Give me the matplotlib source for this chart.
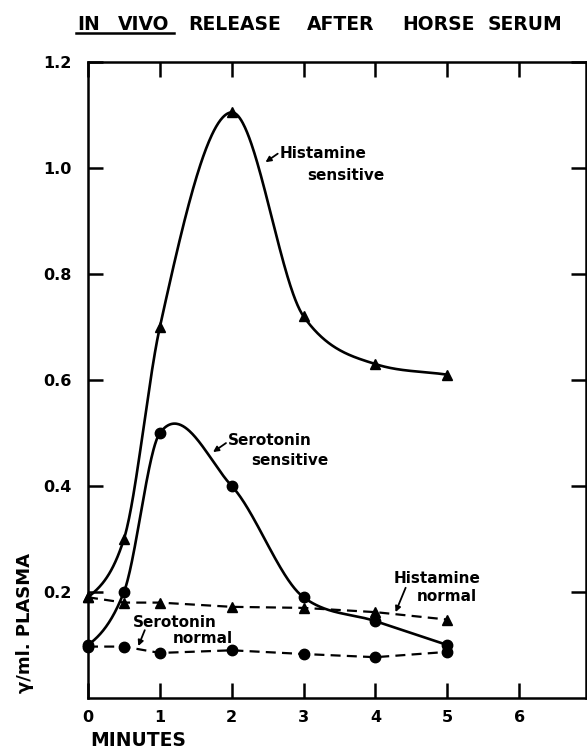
import numpy as np
import matplotlib
matplotlib.use("Agg")
import matplotlib.pyplot as plt
from matplotlib.lines import Line2D

# ---- data ----
minutes = [0, 0.5, 1, 2, 3, 4, 5]
histamine_sensitive = [0.19, 0.30, 0.70, 1.105, 0.72, 0.63, 0.61]
serotonin_sensitive = [0.10, 0.20, 0.50, 0.40, 0.19, 0.145, 0.10]
histamine_normal = [0.19, 0.18, 0.18, 0.172, 0.17, 0.162, 0.148]
serotonin_normal = [0.097, 0.097, 0.085, 0.09, 0.083, 0.077, 0.087]
x_ticks = [0, 1, 2, 3, 4, 5, 6]
y_ticks = [0.2, 0.4, 0.6, 0.8, 1.0, 1.2]
y_tick_labels = ["0.2", "0.4", "0.6", "0.8", "1.0", "1.2"]
title_words = ["IN", "VIVO", "RELEASE", "AFTER", "HORSE", "SERUM"]


def smooth_curve(x, y, xs):
    """Hermite cubic through the data points, tangents blended between
    Bessel (parabolic) and Fritsch-Carlson (shape-preserving) estimates."""
    x = np.asarray(x, float)
    y = np.asarray(y, float)
    h = np.diff(x)
    d = np.diff(y) / h
    n = len(x)
    m = np.zeros(n)
    for k in range(1, n - 1):
        bes = (h[k] * d[k - 1] + h[k - 1] * d[k]) / (h[k - 1] + h[k])
        fc = 0.0
        if d[k - 1] * d[k] > 0:
            w1 = 2 * h[k] + h[k - 1]
            w2 = h[k] + 2 * h[k - 1]
            fc = (w1 + w2) / (w1 / d[k - 1] + w2 / d[k])
        m[k] = 0.5 * (bes + fc)
    m[0] = 0.5 * d[0]
    m[-1] = d[-1]
    out = np.empty_like(xs)
    for j, xv in enumerate(xs):
        i = int(np.clip(np.searchsorted(x, xv, side="right") - 1, 0, n - 2))
        t = (xv - x[i]) / h[i]
        h00 = 2 * t ** 3 - 3 * t ** 2 + 1
        h10 = t ** 3 - 2 * t ** 2 + t
        h01 = -2 * t ** 3 + 3 * t ** 2
        h11 = t ** 3 - t ** 2
        out[j] = h00 * y[i] + h10 * h[i] * m[i] + h01 * y[i + 1] + h11 * h[i] * m[i + 1]
    return out


fig = plt.figure(figsize=(5.87, 7.48), dpi=100)
W, H = 587, 748
ax_left, ax_right, ax_top, ax_bot = 88, 586, 62, 698
ax = fig.add_axes([ax_left / W, 1 - ax_bot / H, (ax_right - ax_left) / W, (ax_bot - ax_top) / H])
ax.set_xlim(0, 6.93)
ax.set_ylim(0, 1.2)

lw = 1.9
dash = (0, (4.5, 2.8))
xs = np.linspace(0, 5, 500)
ax.plot(xs, smooth_curve(minutes, histamine_sensitive, xs), color="black", lw=lw)
ax.plot(xs, smooth_curve(minutes, serotonin_sensitive, xs), color="black", lw=lw)
ax.plot(minutes, histamine_sensitive, "^", color="black", ms=7.5, clip_on=False)
ax.plot(minutes, serotonin_sensitive, "o", color="black", ms=7.5, clip_on=False)
ax.plot(minutes, histamine_normal, color="black", lw=1.6, ls=dash,
        marker="^", ms=7.5, clip_on=False)
ax.plot(minutes, serotonin_normal, color="black", lw=1.6, ls=dash,
        marker="o", ms=7.5, clip_on=False)

for s in ax.spines.values():
    s.set_linewidth(1.8)

ax.set_xticks(x_ticks)
ax.set_xticklabels([str(t) for t in x_ticks])
ax.set_yticks(y_ticks)
ax.set_yticklabels(y_tick_labels)
ax.tick_params(direction="in", length=11, width=1.8, top=True, right=True,
               labelsize=11.5, pad=9)
ax.tick_params(axis="y", pad=12)
for lab in ax.get_xticklabels() + ax.get_yticklabels():
    lab.set_fontweight("bold")

tf = dict(fontsize=11, fontweight="bold", va="center", ha="left")
ax.text(2.66, 1.028, "Histamine", **tf)
ax.text(3.05, 0.986, "sensitive", **tf)
ax.text(1.94, 0.485, "Serotonin", **tf)
ax.text(2.27, 0.449, "sensitive", **tf)
ax.text(4.25, 0.226, "Histamine", **tf)
ax.text(4.58, 0.191, "normal", **tf)
ax.text(0.63, 0.143, "Serotonin", **tf)
ax.text(1.18, 0.113, "normal", **tf)

arr = dict(arrowstyle="-|>", color="black", lw=1.3, mutation_scale=8,
           shrinkA=0, shrinkB=0)
ax.annotate("", xy=(2.47, 1.011), xytext=(2.64, 1.027), arrowprops=arr)
ax.annotate("", xy=(1.74, 0.464), xytext=(1.92, 0.481), arrowprops=arr)
ax.annotate("", xy=(4.28, 0.162), xytext=(4.42, 0.208), arrowprops=arr)
ax.annotate("", xy=(0.70, 0.098), xytext=(0.79, 0.128), arrowprops=arr)

# title: each word placed at its position
word_left = [77, 118, 188, 307, 402, 488]
for wtxt, wx in zip(title_words, word_left):
    fig.text(wx / W, 1 - 24 / H, wtxt, fontsize=13.5, fontweight="bold",
             ha="left", va="center")
fig.add_artist(Line2D([76 / W, 174 / W], [1 - 33 / H, 1 - 33 / H], color="black", lw=1.8))

fig.text(25 / W, 1 - 623 / H, "γ/ml. PLASMA", fontsize=13, fontweight="bold",
         rotation=90, ha="center", va="center")
fig.text(90 / W, 1 - 740 / H, "MINUTES", fontsize=13.5, fontweight="bold",
         ha="left", va="center")

fig.savefig("out.png", dpi=100)
